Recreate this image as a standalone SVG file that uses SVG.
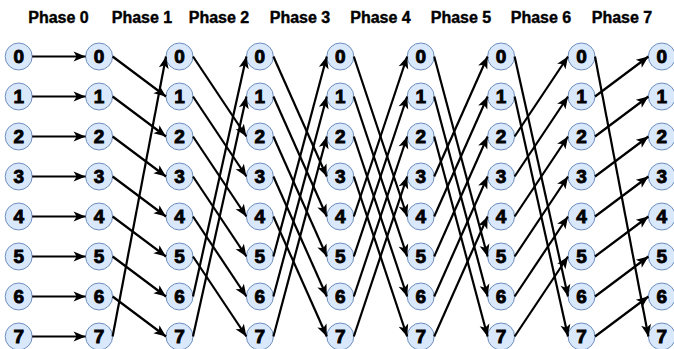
<svg xmlns="http://www.w3.org/2000/svg" width="674" height="349" viewBox="0 0 674 349">
  <style>
    .title { font-family: "Liberation Sans", Arial, Helvetica, sans-serif; font-weight: bold; font-size: 16px; fill: #000; stroke: #000; stroke-width: 0.4; text-anchor: middle; }
    .node circle { fill: #dae8fc; stroke: #6c8ebf; stroke-width: 1; }
    .node text { font-family: "Liberation Sans", Arial, Helvetica, sans-serif; font-weight: bold; font-size: 19px; fill: #000; stroke: #000; stroke-width: 0.9; text-anchor: middle; }
    .edges line { stroke: #000; stroke-width: 2.2; fill: none; marker-end: url(#arrow); }
  </style>
  <defs>
    <marker id="arrow" markerUnits="userSpaceOnUse" markerWidth="14" markerHeight="12" viewBox="0 -6 13 12" refX="12" refY="0" orient="auto">
      <path d="M0,-5 L12,0 L0,5 L3,0 Z" fill="#000"/>
    </marker>
  </defs>

  <rect width="674" height="349" fill="#fff"/>

  <!-- phase headings -->
  <g id="headings">
    <text class="title" x="58.5" y="23">Phase 0</text>
    <text class="title" x="142" y="23">Phase 1</text>
    <text class="title" x="219" y="23">Phase 2</text>
    <text class="title" x="300" y="23">Phase 3</text>
    <text class="title" x="380.5" y="23">Phase 4</text>
    <text class="title" x="461" y="23">Phase 5</text>
    <text class="title" x="541" y="23">Phase 6</text>
    <text class="title" x="622" y="23">Phase 7</text>
  </g>

  <!-- nodes: 9 columns x 8 rows, columns 80.4 apart, rows 40 apart -->
  <g id="nodes">
    <g id="c0r0" class="node" transform="translate(18.7,56.5)"><circle r="13.5"/><text y="6">0</text></g>
    <g id="c0r1" class="node" transform="translate(18.7,96.5)"><circle r="13.5"/><text y="6">1</text></g>
    <g id="c0r2" class="node" transform="translate(18.7,136.5)"><circle r="13.5"/><text y="6">2</text></g>
    <g id="c0r3" class="node" transform="translate(18.7,176.5)"><circle r="13.5"/><text y="6">3</text></g>
    <g id="c0r4" class="node" transform="translate(18.7,216.5)"><circle r="13.5"/><text y="6">4</text></g>
    <g id="c0r5" class="node" transform="translate(18.7,256.5)"><circle r="13.5"/><text y="6">5</text></g>
    <g id="c0r6" class="node" transform="translate(18.7,296.5)"><circle r="13.5"/><text y="6">6</text></g>
    <g id="c0r7" class="node" transform="translate(18.7,336.5)"><circle r="13.5"/><text y="6">7</text></g>

    <g id="c1r0" class="node" transform="translate(99.1,56.5)"><circle r="13.5"/><text y="6">0</text></g>
    <g id="c1r1" class="node" transform="translate(99.1,96.5)"><circle r="13.5"/><text y="6">1</text></g>
    <g id="c1r2" class="node" transform="translate(99.1,136.5)"><circle r="13.5"/><text y="6">2</text></g>
    <g id="c1r3" class="node" transform="translate(99.1,176.5)"><circle r="13.5"/><text y="6">3</text></g>
    <g id="c1r4" class="node" transform="translate(99.1,216.5)"><circle r="13.5"/><text y="6">4</text></g>
    <g id="c1r5" class="node" transform="translate(99.1,256.5)"><circle r="13.5"/><text y="6">5</text></g>
    <g id="c1r6" class="node" transform="translate(99.1,296.5)"><circle r="13.5"/><text y="6">6</text></g>
    <g id="c1r7" class="node" transform="translate(99.1,336.5)"><circle r="13.5"/><text y="6">7</text></g>

    <g id="c2r0" class="node" transform="translate(179.5,56.5)"><circle r="13.5"/><text y="6">0</text></g>
    <g id="c2r1" class="node" transform="translate(179.5,96.5)"><circle r="13.5"/><text y="6">1</text></g>
    <g id="c2r2" class="node" transform="translate(179.5,136.5)"><circle r="13.5"/><text y="6">2</text></g>
    <g id="c2r3" class="node" transform="translate(179.5,176.5)"><circle r="13.5"/><text y="6">3</text></g>
    <g id="c2r4" class="node" transform="translate(179.5,216.5)"><circle r="13.5"/><text y="6">4</text></g>
    <g id="c2r5" class="node" transform="translate(179.5,256.5)"><circle r="13.5"/><text y="6">5</text></g>
    <g id="c2r6" class="node" transform="translate(179.5,296.5)"><circle r="13.5"/><text y="6">6</text></g>
    <g id="c2r7" class="node" transform="translate(179.5,336.5)"><circle r="13.5"/><text y="6">7</text></g>

    <g id="c3r0" class="node" transform="translate(259.9,56.5)"><circle r="13.5"/><text y="6">0</text></g>
    <g id="c3r1" class="node" transform="translate(259.9,96.5)"><circle r="13.5"/><text y="6">1</text></g>
    <g id="c3r2" class="node" transform="translate(259.9,136.5)"><circle r="13.5"/><text y="6">2</text></g>
    <g id="c3r3" class="node" transform="translate(259.9,176.5)"><circle r="13.5"/><text y="6">3</text></g>
    <g id="c3r4" class="node" transform="translate(259.9,216.5)"><circle r="13.5"/><text y="6">4</text></g>
    <g id="c3r5" class="node" transform="translate(259.9,256.5)"><circle r="13.5"/><text y="6">5</text></g>
    <g id="c3r6" class="node" transform="translate(259.9,296.5)"><circle r="13.5"/><text y="6">6</text></g>
    <g id="c3r7" class="node" transform="translate(259.9,336.5)"><circle r="13.5"/><text y="6">7</text></g>

    <g id="c4r0" class="node" transform="translate(340.3,56.5)"><circle r="13.5"/><text y="6">0</text></g>
    <g id="c4r1" class="node" transform="translate(340.3,96.5)"><circle r="13.5"/><text y="6">1</text></g>
    <g id="c4r2" class="node" transform="translate(340.3,136.5)"><circle r="13.5"/><text y="6">2</text></g>
    <g id="c4r3" class="node" transform="translate(340.3,176.5)"><circle r="13.5"/><text y="6">3</text></g>
    <g id="c4r4" class="node" transform="translate(340.3,216.5)"><circle r="13.5"/><text y="6">4</text></g>
    <g id="c4r5" class="node" transform="translate(340.3,256.5)"><circle r="13.5"/><text y="6">5</text></g>
    <g id="c4r6" class="node" transform="translate(340.3,296.5)"><circle r="13.5"/><text y="6">6</text></g>
    <g id="c4r7" class="node" transform="translate(340.3,336.5)"><circle r="13.5"/><text y="6">7</text></g>

    <g id="c5r0" class="node" transform="translate(420.7,56.5)"><circle r="13.5"/><text y="6">0</text></g>
    <g id="c5r1" class="node" transform="translate(420.7,96.5)"><circle r="13.5"/><text y="6">1</text></g>
    <g id="c5r2" class="node" transform="translate(420.7,136.5)"><circle r="13.5"/><text y="6">2</text></g>
    <g id="c5r3" class="node" transform="translate(420.7,176.5)"><circle r="13.5"/><text y="6">3</text></g>
    <g id="c5r4" class="node" transform="translate(420.7,216.5)"><circle r="13.5"/><text y="6">4</text></g>
    <g id="c5r5" class="node" transform="translate(420.7,256.5)"><circle r="13.5"/><text y="6">5</text></g>
    <g id="c5r6" class="node" transform="translate(420.7,296.5)"><circle r="13.5"/><text y="6">6</text></g>
    <g id="c5r7" class="node" transform="translate(420.7,336.5)"><circle r="13.5"/><text y="6">7</text></g>

    <g id="c6r0" class="node" transform="translate(501.1,56.5)"><circle r="13.5"/><text y="6">0</text></g>
    <g id="c6r1" class="node" transform="translate(501.1,96.5)"><circle r="13.5"/><text y="6">1</text></g>
    <g id="c6r2" class="node" transform="translate(501.1,136.5)"><circle r="13.5"/><text y="6">2</text></g>
    <g id="c6r3" class="node" transform="translate(501.1,176.5)"><circle r="13.5"/><text y="6">3</text></g>
    <g id="c6r4" class="node" transform="translate(501.1,216.5)"><circle r="13.5"/><text y="6">4</text></g>
    <g id="c6r5" class="node" transform="translate(501.1,256.5)"><circle r="13.5"/><text y="6">5</text></g>
    <g id="c6r6" class="node" transform="translate(501.1,296.5)"><circle r="13.5"/><text y="6">6</text></g>
    <g id="c6r7" class="node" transform="translate(501.1,336.5)"><circle r="13.5"/><text y="6">7</text></g>

    <g id="c7r0" class="node" transform="translate(581.5,56.5)"><circle r="13.5"/><text y="6">0</text></g>
    <g id="c7r1" class="node" transform="translate(581.5,96.5)"><circle r="13.5"/><text y="6">1</text></g>
    <g id="c7r2" class="node" transform="translate(581.5,136.5)"><circle r="13.5"/><text y="6">2</text></g>
    <g id="c7r3" class="node" transform="translate(581.5,176.5)"><circle r="13.5"/><text y="6">3</text></g>
    <g id="c7r4" class="node" transform="translate(581.5,216.5)"><circle r="13.5"/><text y="6">4</text></g>
    <g id="c7r5" class="node" transform="translate(581.5,256.5)"><circle r="13.5"/><text y="6">5</text></g>
    <g id="c7r6" class="node" transform="translate(581.5,296.5)"><circle r="13.5"/><text y="6">6</text></g>
    <g id="c7r7" class="node" transform="translate(581.5,336.5)"><circle r="13.5"/><text y="6">7</text></g>

    <g id="c8r0" class="node" transform="translate(661.9,56.5)"><circle r="13.5"/><text y="6">0</text></g>
    <g id="c8r1" class="node" transform="translate(661.9,96.5)"><circle r="13.5"/><text y="6">1</text></g>
    <g id="c8r2" class="node" transform="translate(661.9,136.5)"><circle r="13.5"/><text y="6">2</text></g>
    <g id="c8r3" class="node" transform="translate(661.9,176.5)"><circle r="13.5"/><text y="6">3</text></g>
    <g id="c8r4" class="node" transform="translate(661.9,216.5)"><circle r="13.5"/><text y="6">4</text></g>
    <g id="c8r5" class="node" transform="translate(661.9,256.5)"><circle r="13.5"/><text y="6">5</text></g>
    <g id="c8r6" class="node" transform="translate(661.9,296.5)"><circle r="13.5"/><text y="6">6</text></g>
    <g id="c8r7" class="node" transform="translate(661.9,336.5)"><circle r="13.5"/><text y="6">7</text></g>
  </g>

  <!-- connectors: phase k sends row i to row (i+k) mod 8; each phase group is shifted 80.4*k -->
  <g id="connectors" class="edges">
    <g id="phase0">
      <line x1="32.2" y1="56.5" x2="85.6" y2="56.5"/>
      <line x1="32.2" y1="96.5" x2="85.6" y2="96.5"/>
      <line x1="32.2" y1="136.5" x2="85.6" y2="136.5"/>
      <line x1="32.2" y1="176.5" x2="85.6" y2="176.5"/>
      <line x1="32.2" y1="216.5" x2="85.6" y2="216.5"/>
      <line x1="32.2" y1="256.5" x2="85.6" y2="256.5"/>
      <line x1="32.2" y1="296.5" x2="85.6" y2="296.5"/>
      <line x1="32.2" y1="336.5" x2="85.6" y2="336.5"/>
    </g>
    <g id="phase1" transform="translate(80.4,0)">
      <line x1="32.2" y1="56.5" x2="85.6" y2="96.5"/>
      <line x1="32.2" y1="96.5" x2="85.6" y2="136.5"/>
      <line x1="32.2" y1="136.5" x2="85.6" y2="176.5"/>
      <line x1="32.2" y1="176.5" x2="85.6" y2="216.5"/>
      <line x1="32.2" y1="216.5" x2="85.6" y2="256.5"/>
      <line x1="32.2" y1="256.5" x2="85.6" y2="296.5"/>
      <line x1="32.2" y1="296.5" x2="85.6" y2="336.5"/>
      <line x1="32.2" y1="336.5" x2="85.6" y2="56.5"/>
    </g>
    <g id="phase2" transform="translate(160.8,0)">
      <line x1="32.2" y1="56.5" x2="85.6" y2="136.5"/>
      <line x1="32.2" y1="96.5" x2="85.6" y2="176.5"/>
      <line x1="32.2" y1="136.5" x2="85.6" y2="216.5"/>
      <line x1="32.2" y1="176.5" x2="85.6" y2="256.5"/>
      <line x1="32.2" y1="216.5" x2="85.6" y2="296.5"/>
      <line x1="32.2" y1="256.5" x2="85.6" y2="336.5"/>
      <line x1="32.2" y1="296.5" x2="85.6" y2="56.5"/>
      <line x1="32.2" y1="336.5" x2="85.6" y2="96.5"/>
    </g>
    <g id="phase3" transform="translate(241.2,0)">
      <line x1="32.2" y1="56.5" x2="85.6" y2="176.5"/>
      <line x1="32.2" y1="96.5" x2="85.6" y2="216.5"/>
      <line x1="32.2" y1="136.5" x2="85.6" y2="256.5"/>
      <line x1="32.2" y1="176.5" x2="85.6" y2="296.5"/>
      <line x1="32.2" y1="216.5" x2="85.6" y2="336.5"/>
      <line x1="32.2" y1="256.5" x2="85.6" y2="56.5"/>
      <line x1="32.2" y1="296.5" x2="85.6" y2="96.5"/>
      <line x1="32.2" y1="336.5" x2="85.6" y2="136.5"/>
    </g>
    <g id="phase4" transform="translate(321.6,0)">
      <line x1="32.2" y1="56.5" x2="85.6" y2="216.5"/>
      <line x1="32.2" y1="96.5" x2="85.6" y2="256.5"/>
      <line x1="32.2" y1="136.5" x2="85.6" y2="296.5"/>
      <line x1="32.2" y1="176.5" x2="85.6" y2="336.5"/>
      <line x1="32.2" y1="216.5" x2="85.6" y2="56.5"/>
      <line x1="32.2" y1="256.5" x2="85.6" y2="96.5"/>
      <line x1="32.2" y1="296.5" x2="85.6" y2="136.5"/>
      <line x1="32.2" y1="336.5" x2="85.6" y2="176.5"/>
    </g>
    <g id="phase5" transform="translate(402,0)">
      <line x1="32.2" y1="56.5" x2="85.6" y2="256.5"/>
      <line x1="32.2" y1="96.5" x2="85.6" y2="296.5"/>
      <line x1="32.2" y1="136.5" x2="85.6" y2="336.5"/>
      <line x1="32.2" y1="176.5" x2="85.6" y2="56.5"/>
      <line x1="32.2" y1="216.5" x2="85.6" y2="96.5"/>
      <line x1="32.2" y1="256.5" x2="85.6" y2="136.5"/>
      <line x1="32.2" y1="296.5" x2="85.6" y2="176.5"/>
      <line x1="32.2" y1="336.5" x2="85.6" y2="216.5"/>
    </g>
    <g id="phase6" transform="translate(482.4,0)">
      <line x1="32.2" y1="56.5" x2="85.6" y2="296.5"/>
      <line x1="32.2" y1="96.5" x2="85.6" y2="336.5"/>
      <line x1="32.2" y1="136.5" x2="85.6" y2="56.5"/>
      <line x1="32.2" y1="176.5" x2="85.6" y2="96.5"/>
      <line x1="32.2" y1="216.5" x2="85.6" y2="136.5"/>
      <line x1="32.2" y1="256.5" x2="85.6" y2="176.5"/>
      <line x1="32.2" y1="296.5" x2="85.6" y2="216.5"/>
      <line x1="32.2" y1="336.5" x2="85.6" y2="256.5"/>
    </g>
    <g id="phase7" transform="translate(562.8,0)">
      <line x1="32.2" y1="56.5" x2="85.6" y2="336.5"/>
      <line x1="32.2" y1="96.5" x2="85.6" y2="56.5"/>
      <line x1="32.2" y1="136.5" x2="85.6" y2="96.5"/>
      <line x1="32.2" y1="176.5" x2="85.6" y2="136.5"/>
      <line x1="32.2" y1="216.5" x2="85.6" y2="176.5"/>
      <line x1="32.2" y1="256.5" x2="85.6" y2="216.5"/>
      <line x1="32.2" y1="296.5" x2="85.6" y2="256.5"/>
      <line x1="32.2" y1="336.5" x2="85.6" y2="296.5"/>
    </g>
  </g>
</svg>
